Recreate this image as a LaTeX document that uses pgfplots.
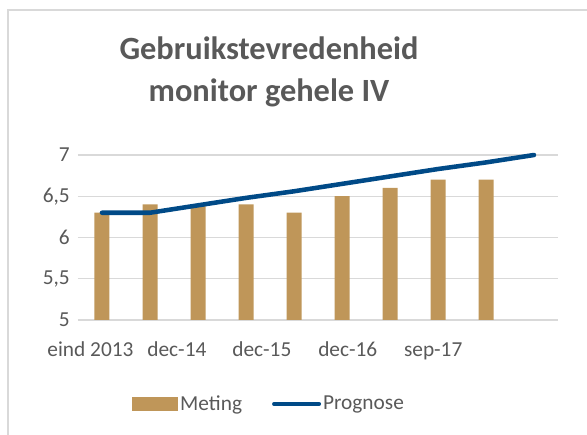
\documentclass[border=0pt]{standalone}
\usepackage{pgfplots}
\pgfplotsset{compat=1.18}
\usepackage{fontspec}
\setmainfont{Carlito}
\definecolor{txt}{HTML}{595959}
\definecolor{meting}{HTML}{BF9659}
\definecolor{prognose}{HTML}{004A87}
\definecolor{rim}{HTML}{D9D9D9}
\begin{document}
\begin{tikzpicture}
  \path[use as bounding box] (0,0) rectangle (440.25pt,326.25pt);
  \draw[rim, line width=0.9pt] (6pt,-10pt) -- (6pt,318.75pt) -- (460pt,318.75pt);
  \begin{axis}[at={(58.5pt,86.25pt)}, anchor=south west,
      scale only axis, width=360pt, height=123.75pt,
      xmin=-0.5, xmax=9.5, ymin=5, ymax=7,
      ytick={5,5.5,6,6.5,7},
      xtick={-0.24,1.56,3.33,5.12,6.9},
      xticklabels={eind 2013,dec-14,dec-15,dec-16,sep-17},
      /pgf/number format/use comma,
      /pgf/number format/assume math mode=true,
      axis line style={draw=none}, major tick length=0pt,
      ymajorgrids, grid style={rim, line width=0.9pt},
      tick label style={font=\fontsize{16}{19}\selectfont, text=txt},
      yticklabel style={inner sep=0pt, xshift=-6pt},
      xticklabel style={anchor=base, inner sep=0pt, yshift=-27.75pt},
      title={Gebruikstevredenheid\\monitor gehele IV},
      title style={at={(0.398,1)}, anchor=base, yshift=33.75pt, align=center,
        font=\fontsize{24.3}{31.5}\selectfont\bfseries, text=txt},
      legend style={at={(0.398,-0.509)}, anchor=center, draw=none,
        fill=none, legend columns=-1, font=\fontsize{16}{19}\selectfont,
        text=txt, /tikz/every even column/.append style={column sep=21pt},
        nodes={inner sep=1.5pt}},
      clip=false]
    \addplot[ybar, bar width=11.25pt, bar shift=0pt, fill=meting, draw=none,
      legend image code/.code={\fill[meting] (0pt,-5pt) rectangle (34.5pt,5pt);}]
      coordinates {(0,6.3)(1,6.4)(2,6.4)(3,6.4)(4,6.3)(5,6.5)(6,6.6)(7,6.7)(8,6.7)};
    \addplot[prognose, line width=3.4pt, line cap=round, line join=round,
      legend image code/.code={\draw[prognose, line width=3pt, line cap=round] (1.5pt,0pt) -- (35.25pt,0pt);}]
      coordinates {(0,6.3)(1,6.3)(2,6.39)(3,6.48)(4,6.56)(5,6.65)(6,6.74)(7,6.83)(8,6.91)(9,7)};
    \legend{Meting,Prognose}
  \end{axis}
\end{tikzpicture}
\end{document}
